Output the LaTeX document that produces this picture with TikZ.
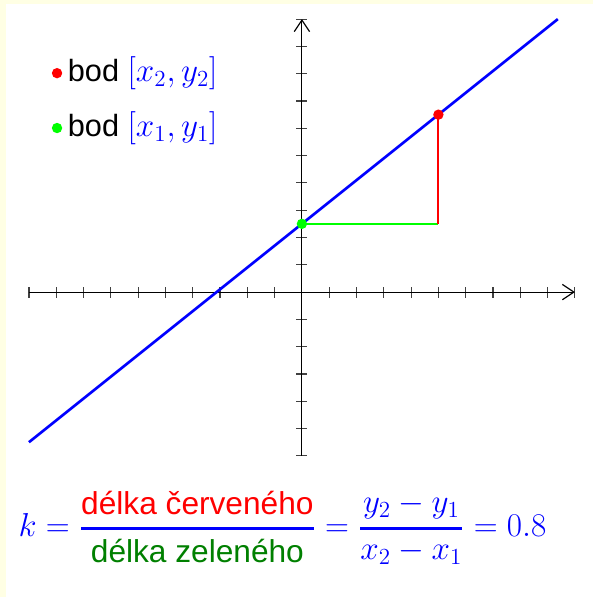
\documentclass[tikz,border=0pt]{standalone}
\usepackage{amsmath}
\usepackage{fontspec}
\setsansfont{Liberation Sans}
\usetikzlibrary{arrows.meta, positioning}
\definecolor{cream}{RGB}{255,255,228}
\definecolor{darkgreen}{RGB}{0,128,0}
\tikzset{
  axis/.style={black, line width=0.6pt, -{Straight Barb[length=6pt,width=8pt]}},
  tick/.style={black!75, line width=0.6pt},
  point/.style={circle, inner sep=0pt, minimum size=0.19cm},
  legend/.style={font=\sffamily\fontsize{16}{19}\selectfont, inner sep=0pt},
}
\newcommand{\sanstext}[2]{\text{\sffamily\fontsize{16.5}{20}\selectfont\color{#1}#2}}

\begin{document}
\begin{tikzpicture}[x=0.5cm, y=0.5cm]
    % Background
    \fill[cream] (-11.06,-11.17) rectangle (10.66,10.70);
    \fill[white] (-10.84,-11.17) rectangle (10.66,10.55);
    \useasboundingbox (-11.06,-11.17) rectangle (10.66,10.70);

    % Axes
    \foreach \x in {-10,...,10}
        \draw[tick] (\x,-0.2) -- (\x,0.2);
    \foreach \y in {-6,...,10}
        \draw[tick] (-0.2,\y) -- (0.2,\y);
    \draw[axis] (-10,0) -- (10,0);
    \draw[axis] (0,-6) -- (0,10);

    % Line and points
    \coordinate (start) at (-10,-5.5);
    \coordinate (end) at (9.375,10);
    \coordinate (p1) at (0,2.5);
    \coordinate (p2) at (5,6.5);
    \coordinate (corner) at (5,2.5);
    \draw[blue, line width=1.4pt] (start) -- (end);
    \draw[green, line width=1pt] (p1) -- (corner);
    \draw[red, line width=1pt] (corner) -- (p2);
    \node (dot1) at (p1) [point, fill=green] {};
    \node (dot2) at (p2) [point, fill=red] {};

    % Legend
    \node (keyB) at (-8.97,8.02) [point, fill=red] {};
    \node (bodB) [legend, right=0.09cm of keyB] {bod {\LARGE\color{blue}$[x_2,y_2]$}};
    \node (keyA) at (-8.97,6.01) [point, fill=green] {};
    \node (bodA) [legend, right=0.09cm of keyA] {bod {\LARGE\color{blue}$[x_1,y_1]$}};

    % Slope
    \node (slope) at (-0.71,-8.64) [blue, font=\LARGE] {$k=\genfrac{}{}{1.5pt}{0}{\sanstext{red}{délka červeného}}{\sanstext{darkgreen}{délka zeleného}}=\genfrac{}{}{1.5pt}{0}{y_2-y_1}{x_2-x_1}=0.8$};
\end{tikzpicture}
\end{document}
